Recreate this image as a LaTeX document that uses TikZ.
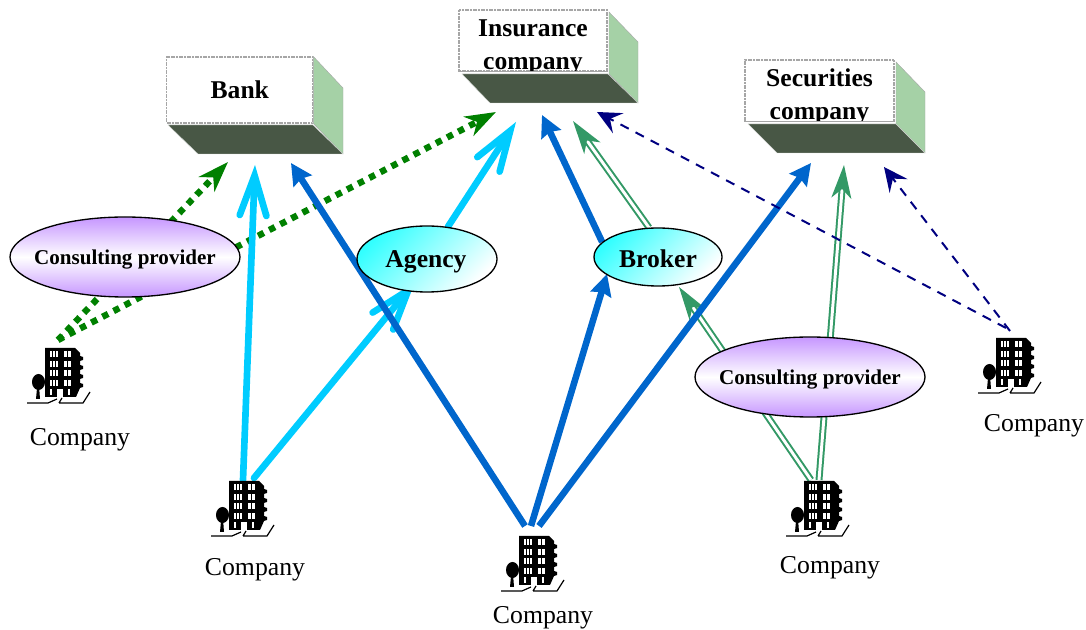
\documentclass[tikz,border=0pt]{standalone}
\usepackage{fontspec}
\setmainfont{Liberation Serif}
\usetikzlibrary{arrows.meta,shapes.geometric}
\pgfdeclarelayer{links}
\pgfsetlayers{links,main}
\definecolor{boxside}{HTML}{A5D1A6}
\definecolor{boxfloor}{HTML}{485745}
\definecolor{dotgreen}{HTML}{008000}
\definecolor{skyline}{HTML}{00CCFF}
\definecolor{blueline}{HTML}{0066CC}
\definecolor{seagreenline}{HTML}{339966}
\definecolor{navyline}{HTML}{000080}
\definecolor{lilac}{HTML}{C696FF}
\definecolor{aqua}{HTML}{33FFFF}
\tikzset{
  x=0.75pt,y=-0.75pt,
  boxfront/.style={draw=gray!70,dash pattern=on 1.5pt off 0.5pt,line width=0.8pt,fill=white,inner xsep=0pt,inner ysep=-6pt,align=center,font=\fontsize{19.2}{24.75}\selectfont\bfseries},
  sidefill/.style={fill=boxside,draw=gray!70,line width=0.3pt},
  floorfill/.style={fill=boxfloor,draw=white!80!boxfloor,line width=0.3pt},
  consult/.style={ellipse,draw=black,line width=1pt,inner ysep=0pt,inner xsep=-8pt,text depth=0pt,minimum width=172.5pt,minimum height=60pt,top color=lilac,bottom color=lilac,middle color=white,font=\fontsize{15.8}{18}\selectfont\bfseries},
  intermediary/.style={ellipse,draw=black,line width=1pt,inner sep=0pt,text depth=0pt,left color=aqua,right color=white,shading angle=45,font=\fontsize{19.2}{22}\selectfont\bfseries},
  companylabel/.style={inner sep=0pt,font=\fontsize{19.3}{22}\selectfont},
  dottedlink/.style={draw=dotgreen,line width=4.8pt,dash pattern=on 4.8pt off 4.6pt,-{Stealth[inset=7pt,length=23pt,width=16pt,color=dotgreen]}},
  skylink/.style={draw=skyline,line width=5pt,line cap=round,-{Straight Barb[length=30pt,width=20pt,line width=5pt,line cap=round,line join=miter,color=skyline]}},
  bluelink/.style={draw=blueline,line width=4.9pt,-{Stealth[inset=2pt,length=16pt,width=16pt,color=blueline]}},
  greenlink/.style={draw=seagreenline,double=white,double distance=2.2pt,line width=1.5pt,-{Stealth[inset=7pt,length=25pt,width=15pt,color=seagreenline]}},
  navylink/.style={draw=navyline,line width=1.5pt,dash pattern=on 7pt off 5.8pt,-{Stealth[inset=7pt,length=18pt,width=17pt,color=navyline]}},
  pics/office/.style={code={
    \fill[black] (0,0)--(30,0)--(35,5)--(35,8)--(38,9)--(38,12)--(35,13)--(35,17)--(38,18)--(38,21)--(35,22)--(35,26)--(38,27)--(38,30)--(35,31)--(35,35)--(38,36)--(38,39)--(35,40)--(31,49)--(0,49)--cycle;
    \foreach \r in {3,13,22,32}{
      \foreach \c in {5,8,11}{\fill[white] (\c,\r) rectangle ++(1.8,6);}
      \foreach \c in {19,23}{\fill[white] (\c,\r) rectangle ++(2.5,6);}
    }
    \foreach \c in {5,23}{\fill[white] (\c,41) rectangle ++(2,6);}
    \fill[white] (11.5,41) rectangle (17.5,49);
    \fill[black] (-6.5,34) ellipse [x radius=6.5,y radius=8];
    \fill[black] (-8,40) -- (-5.8,40) -- (-5,51) -- (-9,51) -- cycle;
    \draw[black,line width=0.9pt] (-18,55)--(3,55)--(12,51) (14,55)--(38,55)--(45,44) (14,55)--(17,50);
  }}
}
\begin{document}
\begin{tikzpicture}
\useasboundingbox (0,0) rectangle (1086,630);
% institutions
\node[boxfront,minimum width=109.5pt,minimum height=49.5pt] (bank) at (239.8,90) {Bank};
\fill[sidefill] (bank.north east) -- (343,88) -- (343,154) -- (bank.south east) -- cycle;
\fill[floorfill] (168,125) -- (313,125) -- (343,154) -- (198,154) -- cycle;
\node[boxfront,minimum width=111pt,minimum height=45.75pt] (insurance) at (533,40.5) {\rule{0pt}{22.5pt}Insurance\\company};
\fill[white] (458,71.2) rectangle (608,74);
\draw[gray!70,line width=0.8pt] (insurance.south west) -- (insurance.south east);
\fill[sidefill] (609,12) -- (638,42) -- (638,103) -- (609,74) -- cycle;
\fill[floorfill] (462,74) -- (608,74) -- (638,103) -- (490,103) -- cycle;
\node[boxfront,minimum width=111.75pt,minimum height=46pt] (securities) at (819.5,90.7) {\rule{0pt}{22.5pt}Securities\\company};
\fill[white] (744,121.8) rectangle (895,124);
\draw[gray!70,line width=0.8pt] (securities.south west) -- (securities.south east);
\fill[sidefill] (896,62) -- (925,92) -- (925,153) -- (896,124) -- cycle;
\fill[floorfill] (748,124) -- (896,124) -- (925,153) -- (777,153) -- cycle;
% intermediaries
\node[consult] (cpleft) at (125,257) {Consulting provider};
\node[consult] (cpright) at (810,377) {Consulting provider};
\node[intermediary,minimum width=105pt,minimum height=49.5pt] (agency) at (427,259) {\hspace{-1.5pt}Agency};
\node[intermediary,minimum width=96pt,minimum height=43.5pt,text height=16pt] (broker) at (658,257) {Broker};
% companies
\pic (officeA) at (45,348) {office};
\pic (officeB) at (229,481) {office};
\pic (officeC) at (519,536) {office};
\pic (officeD) at (804,481) {office};
\pic (officeE) at (996,338) {office};
\node[companylabel] (labelA) at (80,440) {Company};
\node[companylabel] (labelB) at (255,570) {Company};
\node[companylabel] (labelC) at (543,618) {Company};
\node[companylabel] (labelD) at (830,568) {Company};
\node[companylabel] (labelE) at (1034,426) {Company};
% connector ends
\coordinate (fromA) at (58,340);
\coordinate (fromB1) at (243,480);
\coordinate (fromB2) at (254,478);
\coordinate (fromC1) at (525,526);
\coordinate (fromC2) at (531,526);
\coordinate (fromC3) at (539,526);
\coordinate (fromD1) at (811,480);
\coordinate (fromD2) at (819,480);
\coordinate (fromE1) at (1006,328);
\coordinate (fromE2) at (1010,331);
\coordinate (bankA) at (228,162);
\coordinate (bankB) at (255,165);
\coordinate (bankC) at (291,163);
\coordinate (insA) at (496,112);
\coordinate (insB) at (516,122);
\coordinate (insC) at (542,115);
\coordinate (insD) at (573,121);
\coordinate (insE) at (597,112);
\coordinate (secC) at (811,163);
\coordinate (secD) at (844,165);
\coordinate (secE) at (884,167);
\coordinate (agencyIn) at (415,282);
\coordinate (brokerIn) at (607,274);
\coordinate (brokerInG) at (679,287);
\begin{pgfonlayer}{links}
\draw[dottedlink] (fromA) -- (bankA);
\draw[dottedlink] (fromA) -- (insA);
\draw[skylink] (fromB1) -- (bankB);
\draw[skylink] (fromB2) -- (agencyIn);
\draw[skylink] (agency.57) -- (insB);
\draw[greenlink] (broker.107) -- (insD);
\draw[greenlink] (fromD1) -- (brokerInG);
\draw[greenlink] (fromD2) -- (secD);
\draw[bluelink] (fromC1) -- (bankC);
\draw[bluelink] (fromC2) -- (brokerIn);
\draw[bluelink] (fromC3) -- (secC);
\draw[bluelink] (broker.165) -- (insC);
\draw[navylink] (fromE1) -- (insE);
\draw[navylink] (fromE2) -- (secE);
\end{pgfonlayer}
\end{tikzpicture}
\end{document}
